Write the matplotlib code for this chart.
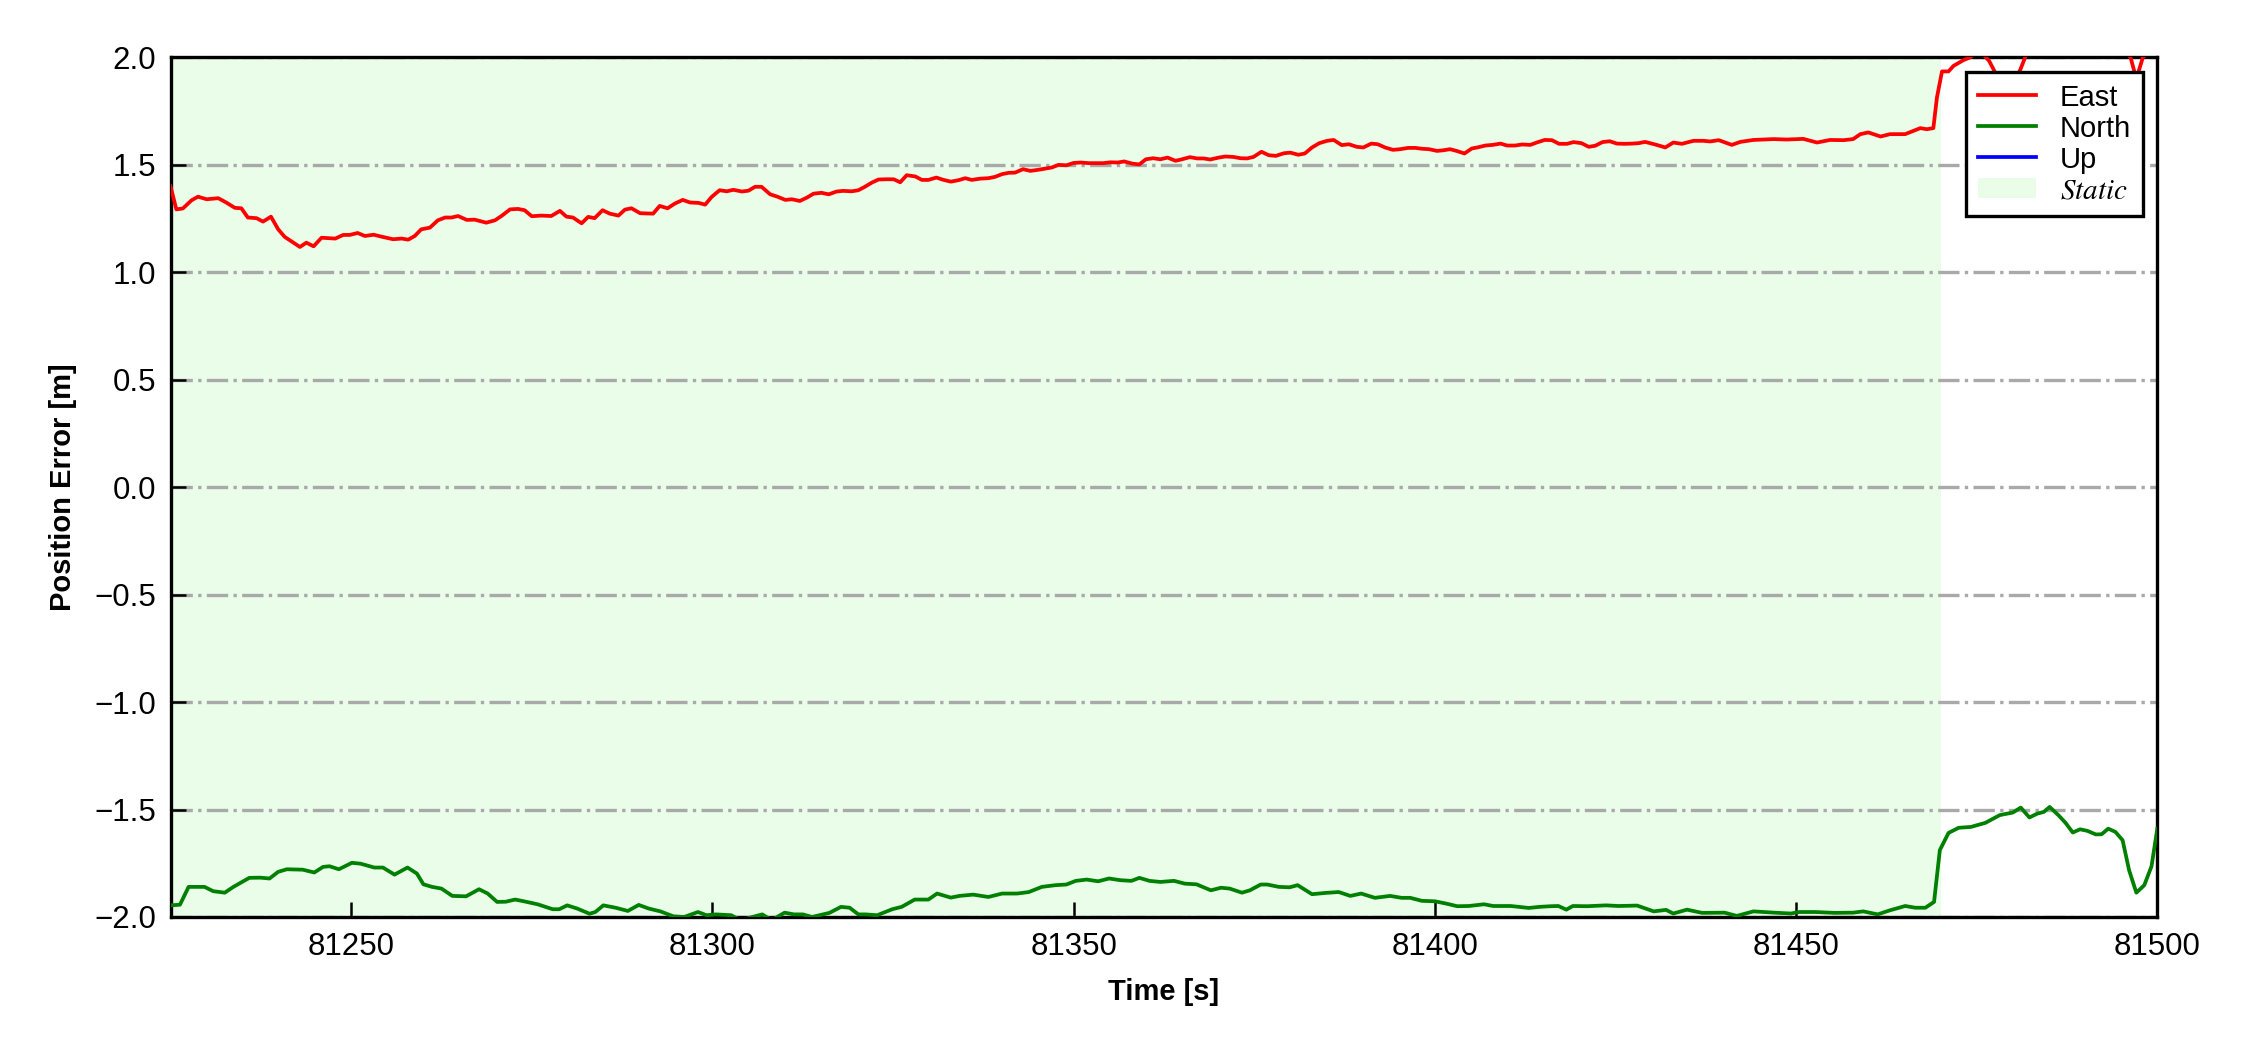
import matplotlib
matplotlib.use('Agg')
import matplotlib.pyplot as plt
from matplotlib.lines import Line2D
from matplotlib.patches import Patch

# ---------------- data ----------------
east_t = [81225.0, 81225.8, 81226.7, 81227.9, 81228.8, 81230.0, 81231.6, 81232.7, 81233.9, 81234.8,
          81235.7, 81236.9, 81237.8, 81238.9, 81239.9, 81240.8, 81242.0, 81242.9, 81243.8, 81244.8,
          81245.9, 81247.8, 81248.9, 81249.8, 81250.9, 81251.9, 81253.1, 81254.2, 81255.8, 81257.0,
          81257.9, 81258.8, 81259.7, 81260.9, 81262.0, 81263.0, 81263.9, 81264.8, 81266.0, 81267.1,
          81268.7, 81269.9, 81270.8, 81272.0, 81273.1, 81274.0, 81275.0, 81276.3, 81277.7, 81278.9,
          81279.8, 81280.7, 81281.9, 81282.8, 81283.7, 81284.8, 81285.8, 81287.0, 81287.9, 81288.8,
          81290.0, 81291.8, 81292.7, 81293.8, 81294.8, 81295.9, 81296.9, 81298.1, 81299.0, 81299.9,
          81301.0, 81302.0, 81302.9, 81304.1, 81305.0, 81305.9, 81306.8, 81308.0, 81309.0, 81310.1,
          81311.0, 81312.1, 81313.1, 81314.0, 81315.1, 81316.1, 81317.2, 81318.1, 81319.3, 81320.2,
          81321.1, 81322.1, 81323.0, 81324.1, 81325.1, 81326.0, 81326.9, 81328.1, 81329.0, 81329.9,
          81331.0, 81332.0, 81333.0, 81334.1, 81335.0, 81335.9, 81337.1, 81338.2, 81339.1, 81340.1,
          81341.0, 81341.9, 81343.0, 81344.0, 81345.1, 81346.1, 81347.0, 81347.9, 81349.0, 81350.0,
          81351.0, 81352.1, 81353.2, 81354.1, 81355.1, 81356.1, 81357.0, 81358.1, 81359.1, 81360.0,
          81361.0, 81362.0, 81363.0, 81364.1, 81365.0, 81366.1, 81367.1, 81368.0, 81368.9, 81370.1,
          81371.0, 81372.1, 81373.1, 81374.0, 81374.9, 81376.0, 81377.0, 81378.0, 81379.1, 81380.0,
          81381.1, 81382.0, 81383.0, 81384.0, 81385.1, 81386.0, 81387.1, 81388.1, 81389.2, 81390.1,
          81391.2, 81392.1, 81393.1, 81394.2, 81395.2, 81396.3, 81397.3, 81398.2, 81399.2, 81400.3,
          81401.2, 81402.1, 81403.0, 81404.1, 81405.1, 81406.0, 81407.0, 81408.0, 81409.1, 81410.0,
          81411.1, 81412.1, 81413.2, 81414.1, 81415.2, 81416.2, 81417.2, 81418.3, 81419.2, 81420.3,
          81421.3, 81422.2, 81423.2, 81424.2, 81425.2, 81426.3, 81427.3, 81428.2, 81429.1, 81430.6,
          81431.9, 81433.0, 81434.2, 81435.8, 81437.2, 81438.1, 81439.3, 81441.1, 81442.3, 81444.1,
          81446.9, 81448.7, 81451.0, 81452.9, 81454.7, 81456.6, 81457.9, 81458.9, 81460.0, 81461.7,
          81463.0, 81465.1, 81466.0, 81467.2, 81468.1, 81469.0, 81469.5, 81470.2, 81471.1, 81471.8,
          81473.2, 81474.1, 81475.2, 81476.0, 81476.7, 81477.4, 81478.5, 81480.0, 81481.0, 81481.7,
          81483.0, 81486.0, 81489.0, 81492.0, 81495.0, 81496.3, 81497.1, 81498.0, 81500.0]
east_v = [1.400, 1.293, 1.297, 1.335, 1.352, 1.340, 1.345, 1.325, 1.300, 1.298,
          1.255, 1.252, 1.236, 1.259, 1.200, 1.165, 1.138, 1.118, 1.138, 1.121,
          1.161, 1.157, 1.174, 1.174, 1.183, 1.169, 1.175, 1.166, 1.154, 1.157,
          1.152, 1.169, 1.200, 1.208, 1.242, 1.255, 1.255, 1.262, 1.244, 1.245,
          1.231, 1.242, 1.262, 1.293, 1.295, 1.289, 1.261, 1.264, 1.262, 1.286,
          1.259, 1.255, 1.228, 1.258, 1.252, 1.289, 1.273, 1.264, 1.292, 1.298,
          1.275, 1.273, 1.309, 1.298, 1.320, 1.337, 1.325, 1.323, 1.315, 1.351,
          1.382, 1.377, 1.384, 1.376, 1.380, 1.398, 1.398, 1.363, 1.352, 1.337,
          1.340, 1.332, 1.348, 1.366, 1.370, 1.363, 1.376, 1.379, 1.377, 1.382,
          1.398, 1.418, 1.432, 1.433, 1.433, 1.419, 1.452, 1.446, 1.430, 1.430,
          1.441, 1.430, 1.422, 1.429, 1.438, 1.430, 1.436, 1.438, 1.444, 1.457,
          1.463, 1.464, 1.480, 1.472, 1.477, 1.483, 1.488, 1.500, 1.498, 1.509,
          1.511, 1.508, 1.508, 1.508, 1.512, 1.511, 1.516, 1.506, 1.502, 1.526,
          1.531, 1.526, 1.534, 1.519, 1.526, 1.536, 1.530, 1.530, 1.525, 1.534,
          1.539, 1.537, 1.531, 1.530, 1.537, 1.561, 1.545, 1.542, 1.554, 1.557,
          1.547, 1.553, 1.581, 1.601, 1.612, 1.616, 1.592, 1.596, 1.584, 1.581,
          1.599, 1.596, 1.581, 1.570, 1.573, 1.579, 1.579, 1.575, 1.573, 1.565,
          1.568, 1.573, 1.565, 1.553, 1.576, 1.582, 1.590, 1.593, 1.599, 1.590,
          1.590, 1.595, 1.593, 1.604, 1.616, 1.615, 1.598, 1.598, 1.606, 1.601,
          1.584, 1.589, 1.606, 1.610, 1.599, 1.598, 1.599, 1.601, 1.607, 1.594,
          1.581, 1.604, 1.598, 1.612, 1.612, 1.609, 1.615, 1.593, 1.607, 1.616,
          1.620, 1.618, 1.621, 1.604, 1.616, 1.615, 1.620, 1.643, 1.651, 1.632,
          1.643, 1.643, 1.655, 1.671, 1.666, 1.671, 1.814, 1.935, 1.935, 1.961,
          1.988, 2.000, 2.030, 2.010, 1.985, 1.940, 1.870, 1.880, 1.940, 2.000,
          2.080, 2.120, 2.150, 2.100, 2.050, 2.000, 1.900, 2.000, 2.060]

north_t = [81225.0, 81226.3, 81227.5, 81229.7, 81230.9, 81232.5, 81233.7, 81235.9, 81237.4, 81238.7,
           81239.9, 81241.1, 81243.3, 81244.9, 81246.1, 81247.0, 81248.3, 81250.1, 81251.3, 81253.2,
           81254.4, 81256.0, 81257.8, 81259.1, 81260.0, 81261.2, 81262.5, 81264.0, 81265.9, 81267.7,
           81268.9, 81270.2, 81271.4, 81272.7, 81273.9, 81275.8, 81277.9, 81278.8, 81279.9, 81281.3,
           81283.0, 81283.8, 81284.9, 81286.6, 81288.3, 81289.8, 81291.2, 81292.8, 81294.6, 81296.1,
           81298.0, 81299.2, 81300.5, 81302.6, 81303.9, 81306.9, 81308.2, 81310.0, 81311.3, 81312.5,
           81313.8, 81316.2, 81317.8, 81319.0, 81320.2, 81321.2, 81322.8, 81324.9, 81326.2, 81328.0,
           81329.9, 81331.1, 81333.0, 81334.2, 81336.1, 81338.2, 81340.1, 81342.2, 81343.8, 81345.6,
           81347.5, 81349.0, 81350.3, 81351.8, 81353.4, 81354.9, 81356.5, 81358.0, 81359.1, 81360.5,
           81362.0, 81363.9, 81365.4, 81367.0, 81369.0, 81370.4, 81371.6, 81373.3, 81374.4, 81375.9,
           81376.8, 81378.4, 81379.9, 81381.0, 81383.0, 81384.9, 81386.7, 81388.3, 81389.8, 81391.7,
           81393.8, 81395.4, 81396.6, 81398.2, 81400.0, 81401.6, 81403.1, 81404.7, 81406.8, 81408.1,
           81410.5, 81413.0, 81414.5, 81416.0, 81417.1, 81418.2, 81419.1, 81421.1, 81423.7, 81425.4,
           81428.0, 81429.2, 81430.3, 81432.0, 81433.0, 81434.9, 81437.0, 81440.1, 81441.8, 81444.1,
           81447.0, 81449.3, 81450.4, 81452.7, 81455.3, 81457.9, 81459.3, 81461.3, 81463.0, 81465.1,
           81466.5, 81467.9, 81469.1, 81469.9, 81471.1, 81472.5, 81474.2, 81476.2, 81478.2, 81480.0,
           81481.1, 81482.3, 81483.4, 81484.3, 81485.1, 81486.3, 81487.3, 81488.3, 81489.3, 81490.3,
           81491.5, 81492.3, 81493.2, 81494.2, 81495.2, 81496.1, 81497.1, 81498.2, 81499.2, 81500.0]
north_v = [-1.946, -1.943, -1.860, -1.860, -1.880, -1.887, -1.860, -1.818, -1.817, -1.821,
           -1.790, -1.778, -1.780, -1.793, -1.767, -1.764, -1.778, -1.748, -1.752, -1.770,
           -1.770, -1.803, -1.770, -1.798, -1.848, -1.860, -1.868, -1.902, -1.904, -1.871,
           -1.891, -1.930, -1.929, -1.919, -1.927, -1.941, -1.964, -1.964, -1.946, -1.961,
           -1.985, -1.977, -1.946, -1.957, -1.972, -1.944, -1.961, -1.974, -1.997, -2.000,
           -1.977, -1.992, -1.988, -1.992, -2.015, -1.988, -2.015, -1.980, -1.988, -1.988,
           -2.000, -1.981, -1.953, -1.957, -1.988, -1.988, -1.992, -1.964, -1.953, -1.919,
           -1.919, -1.891, -1.910, -1.902, -1.896, -1.907, -1.891, -1.891, -1.884, -1.860,
           -1.852, -1.849, -1.832, -1.826, -1.834, -1.821, -1.829, -1.832, -1.818, -1.832,
           -1.837, -1.832, -1.845, -1.848, -1.876, -1.864, -1.868, -1.887, -1.876, -1.849,
           -1.849, -1.860, -1.862, -1.852, -1.894, -1.888, -1.884, -1.902, -1.891, -1.911,
           -1.902, -1.911, -1.911, -1.925, -1.927, -1.938, -1.950, -1.949, -1.941, -1.949,
           -1.949, -1.958, -1.953, -1.950, -1.949, -1.966, -1.949, -1.950, -1.946, -1.949,
           -1.947, -1.961, -1.974, -1.967, -1.984, -1.966, -1.981, -1.980, -1.995, -1.974,
           -1.980, -1.984, -1.977, -1.977, -1.981, -1.980, -1.974, -1.988, -1.969, -1.949,
           -1.957, -1.957, -1.930, -1.689, -1.609, -1.585, -1.581, -1.562, -1.526, -1.514,
           -1.491, -1.537, -1.519, -1.511, -1.488, -1.526, -1.562, -1.607, -1.592, -1.599,
           -1.616, -1.615, -1.589, -1.604, -1.643, -1.783, -1.887, -1.852, -1.764, -1.589]

up_t = []
up_v = []

static_start, static_end = 81200, 81470
x_limits = (81225, 81500)
y_limits = (-2.0, 2.0)
y_ticks = [-2.0, -1.5, -1.0, -0.5, 0.0, 0.5, 1.0, 1.5, 2.0]
x_ticks = [81250, 81300, 81350, 81400, 81450, 81500]

# ---------------- figure ----------------
plt.rcParams['font.family'] = ['Liberation Sans', 'DejaVu Sans']
plt.rcParams['mathtext.fontset'] = 'stix'

fig = plt.figure(figsize=(7.5, 3.5), dpi=300)
ax = fig.add_axes([0.0758, 0.1267, 0.883, 0.8186])

static_color = '#e9fde9'
ax.axvspan(static_start, static_end, color=static_color, lw=0, zorder=0)

lw = 0.9
ax.plot(east_t, east_v, color='red', lw=lw, zorder=3)
ax.plot(north_t, north_v, color='green', lw=lw, zorder=3)
ax.plot(up_t, up_v, color='blue', lw=lw, zorder=3)

ax.set_xlim(*x_limits)
ax.set_ylim(*y_limits)
ax.set_xticks(x_ticks)
ax.set_yticks(y_ticks)
ax.yaxis.grid(True, linestyle='-.', color='darkgray', lw=0.8, zorder=1)
ax.xaxis.grid(False)

ax.tick_params(direction='in', length=3.5, width=0.6, labelsize=7.5, top=False, right=False)
for s in ax.spines.values():
    s.set_linewidth(0.8)

ax.set_xlabel('Time [s]', fontsize=7, fontweight='bold')
ax.set_ylabel('Position Error [m]', fontsize=7, fontweight='bold')

handles = [Line2D([], [], color='red', lw=lw),
           Line2D([], [], color='green', lw=lw),
           Line2D([], [], color='blue', lw=lw),
           Patch(facecolor=static_color, edgecolor='none')]
labels = ['East', 'North', 'Up', r'$\mathit{Static}$']
leg = ax.legend(handles, labels, loc='upper right', fontsize=7, fancybox=False,
                edgecolor='black', framealpha=1, labelspacing=0.1)
leg.get_frame().set_linewidth(0.8)
leg.set_zorder(5)

fig.savefig('out.png', dpi=300)
